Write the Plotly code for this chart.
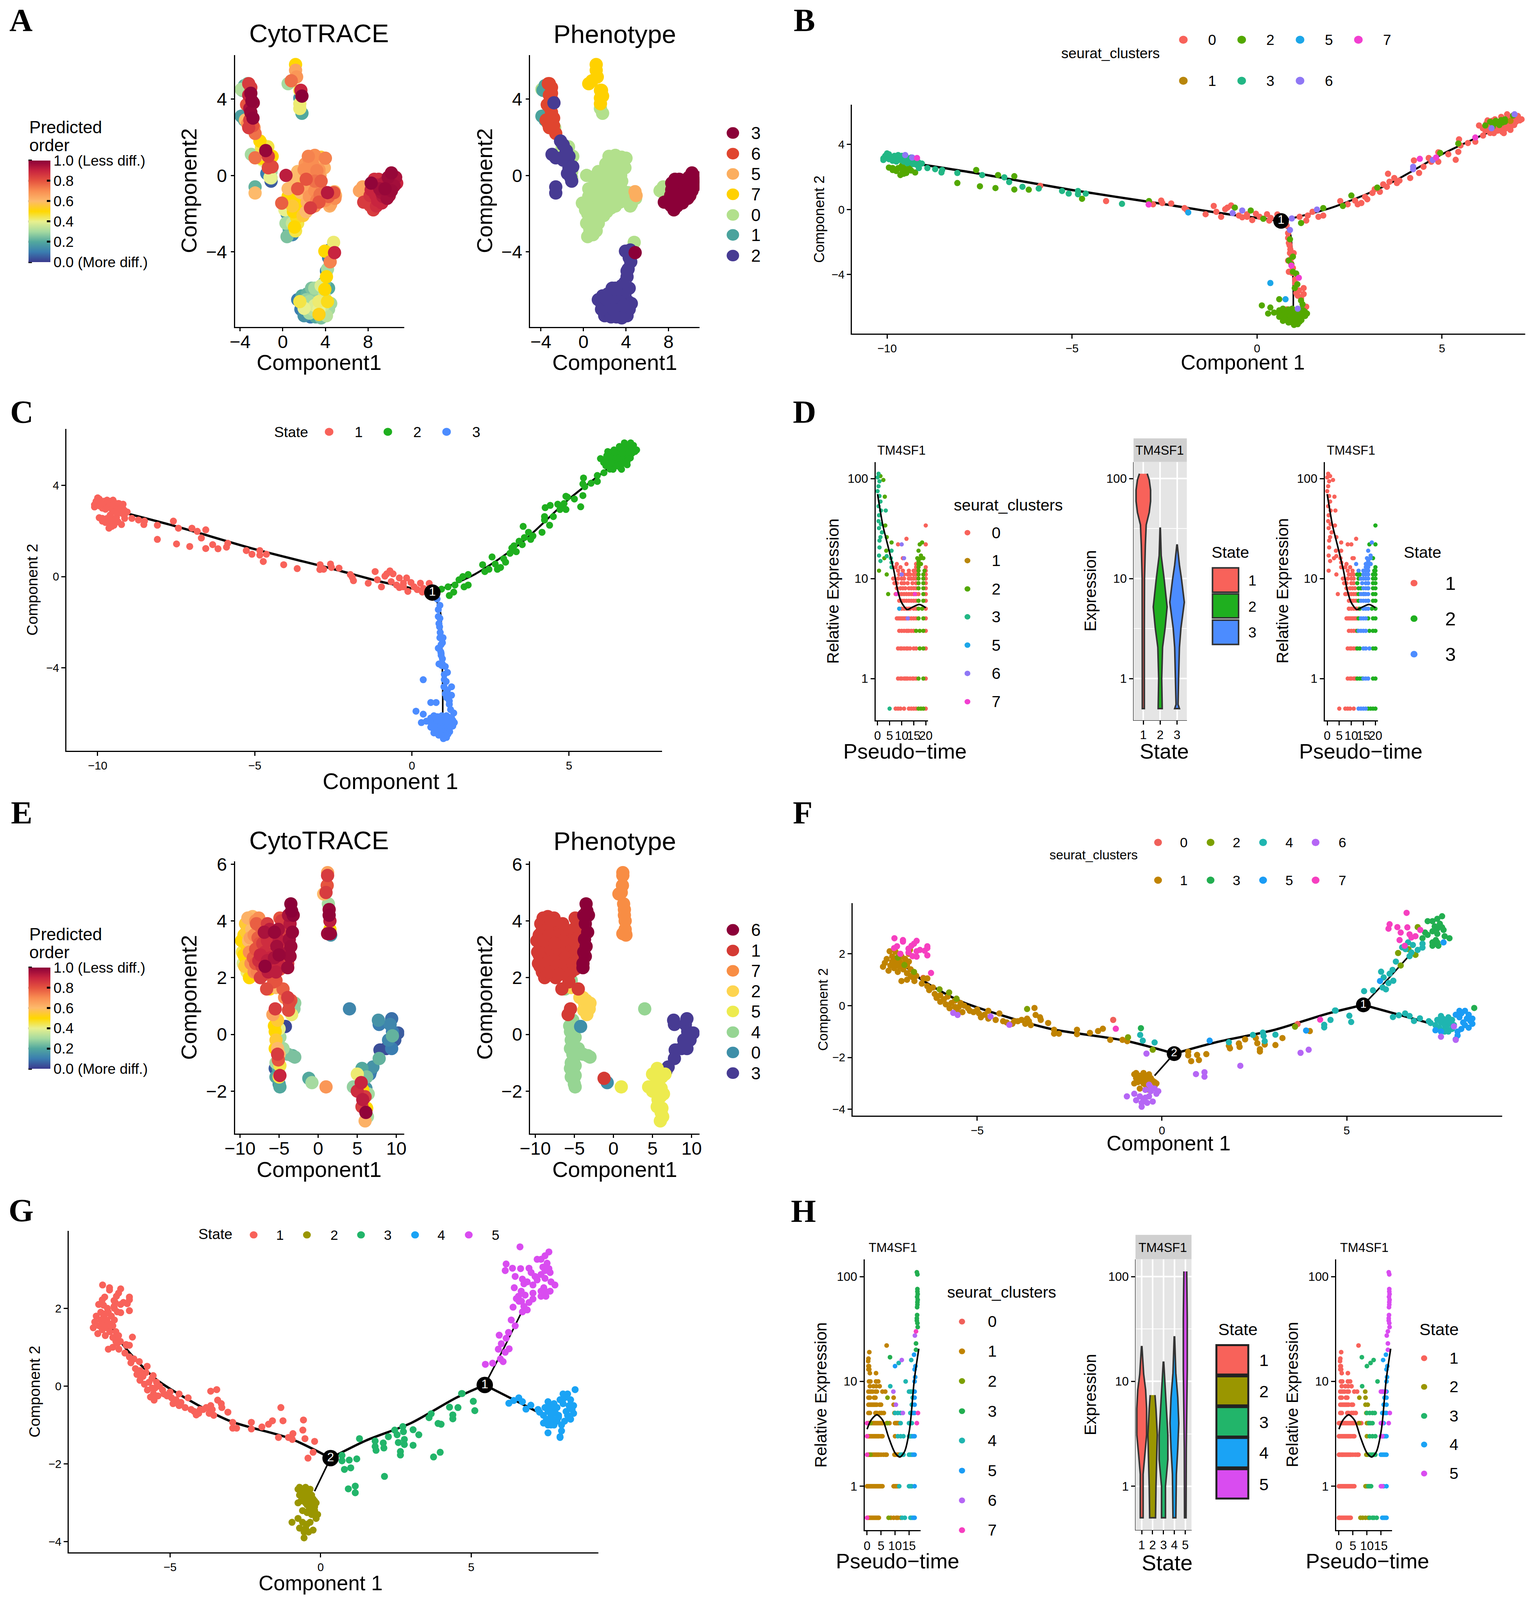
import plotly.graph_objects as go

# layout numbers are page pixels of the 3930x4394 reference, used as paper fractions
W, H = 3930, 4394
SANS = "Liberation Sans"
SERIF = "Liberation Serif"
FS = .98  # the browser frame comes out a bit shorter than asked, so text is scaled down a little

# %%
# Panels A / E: points as (component1, component2, cytotrace score), by phenotype
A_C0 = [(2.4,1.0,.72),(3,1.05,.7),(3.6,.95,.55),(4,.9,.72),(2.1,.6,.68),(2.8,.6,.7),(3.4,.6,.6),(3.9,.4,.62),(1.4,.2,.6),(2,.3,.7),
        (2.6,.3,.65),(3.2,.25,.72),(3.5,0,.65),(.3,0,.92),(.9,-.1,.6),(1.6,-.1,.55),(2.2,-.2,.8),(3,-.3,.75),(3.6,-.3,.78),(1.4,-.7,.8),
        (.5,-.7,.6),(2.2,-.7,.65),(3,-.8,.7),(3.7,-.8,.72),(4.2,-.9,.93),(4.8,-.9,.8),(4.9,-1.2,.7),(2,-1.1,.5),(1,-1.2,.45),(3.2,-1.3,.72),
        (4,-1.3,.7),(4.5,-1.5,.65),(4.4,-1.6,.62),(-.1,-1.45,.78),(.9,-1.6,.55),(1.8,-1.5,.5),(2.6,-1.7,.85),(3.4,-1.4,.8),(1,-1.9,.5),(1.9,-2.1,.55),
        (.4,-2,.15),(.7,-2.3,.2),(1.4,-2.5,.45),(1.1,-2.7,.5),(.5,-2.5,.25),(.3,-2.5,.3),(1.2,-2.9,.45),(.6,-3.0,.15),(.4,-3.2,.25),(.9,-3.1,.12),
        (4.77,-3.5,.42),(-1.1,-.13,.38),(-1.1,.2,.3),(-1.4,.8,.45),(-1.0,1,.5),(-1.4,1.5,.45),(-2.0,1.45,.45),(7.2,-.8,.65),(7.7,-1.1,.6),(7.5,-.6,.65),
        (1.6,3.5,.42),(1.8,3.25,.2),(-2.7,2.5,.7),(-3.9,4.5,.32),(2.4,0,.7),(1.2,-.4,.58),(1.7,-.9,.6),(2.5,-1.1,.68),(3.5,-1,.75),(4.3,-1.1,.78),
        (.5,-1.1,.5),(1.5,-1.3,.5),(2.3,-1.4,.62),(3,-1.6,.7),(1.3,-2.2,.48),(.2,-1.8,.4),(.8,-2.1,.3),(1.6,-1.8,.5),(2.2,-1.9,.6),(.9,-2.5,.35),
        (.6,-2.8,.2),(3.4,.3,.68),(2.5,.8,.7),(3.2,.85,.62)]
A_C1 = [(-3.6,4.7,.22),(-3.8,4.45,.25),(-3.9,3.1,.18),(-3.6,2.9,.2)]
A_C6 = [(-3.3,4.8,.25),(-3.2,4.8,.85),(-3,4.6,.85),(-3.2,4.2,.9),(-2.9,3.9,.99),(-3,4.3,.99),(-3,3.3,.98),(-3.1,3.5,.95),(-2.8,3.0,.99),
        (-3.1,2.9,.85),(-3.3,2.7,.7),(-2.8,2.6,.8),(-2.6,2.2,.75),(-3.5,2.9,.6),(-3.2,2.5,.85),(-3.4,3.7,.8)]
A_C2 = [(-2.15,1.8,.5),(-1.9,1.6,.45),(-2.95,1.1,.3),(-2.6,.92,.75),(-1.6,1.3,.98),(-1.36,1,.85),(-1.9,.8,.4),(-1.36,.4,.82),(-1,.45,.82),
        (-1.2,-.1,.4),(-2.6,-.6,.22),(-2.6,-.92,.6),(-2.0,.9,.5),(-1.7,1.1,.6),(-2.77,3.8,.98),(-1.5,.1,.1),(-1.1,-.3,.05),
        (3.95,-3.96,.5),(4.45,-4.52,.72),(4.2,-4.9,.3),(4.1,-5.3,.5),(3.6,-5.77,.38),(3.95,-5.96,.5),(3,-5.9,.3),(1.6,-6.6,.45),(4.2,-6.6,.48),
        (3.4,-7.27,.52),(2,-6.95,.4),(2.3,-6.2,.22),(3,-6.4,.28),(3.9,-6.3,.35),(1.4,-6.5,.1),(2,-7.34,.15),(3,-6.8,.38),(3.9,-7.1,.3),(4.1,-7.34,.33),
        (2.5,-7.2,.3),(3.4,-6.6,.42),(3.4,-7,.4),(2.5,-6.6,.3),(1.8,-6.3,.2),(4.3,-5.9,.2),(4.5,-6.7,.3),(4.3,-7,.3),(3.9,-5.6,.25),(4.3,-4.3,.1),
        (4.4,-3.9,.12),(4.1,-5,.1),(2.6,-7.4,.1),(3.1,-7.4,.2),(3.6,-7.45,.25),(1.7,-7,.1),(2.7,-5.9,.25),(2.2,-6.5,.28),(3.8,-6.8,.35),(2.8,-7,.33)]
A_C7 = [(1.2,5.8,.5),(1.2,5.5,.65),(1.3,5.15,.68),(.8,4.95,.75),(.5,4.8,.3),(1.7,4.45,.9),(1.8,4.15,1.0),(1.6,4.45,.45),(1.6,3.75,.42),(1.6,4.05,.15)]
A_C5 = [(4.95,-1.05,.62),(4.85,-.85,.6)]
A_C3 = [(7.6,-1.4,.85),(10.2,.13,.98),(10.6,-.1,.95),(9.9,-.1,.97),(10.7,-.4,.9),(9.5,-.4,.93),(8.9,-.5,.92),(8.3,-.4,.99),(8.3,-.75,.9),(9.3,-.9,.95),
        (10.2,-.8,.97),(9.8,-1.2,.96),(8.9,-1.3,.9),(8.2,-1.05,.87),(8.2,-1.57,.84),(8.5,-1.8,.85),(9.3,-1.44,.9),(10,-1.05,.95),(10.45,-.55,.96),(9.1,-.7,.96),
        (9.6,-.7,.98),(8.7,-1.0,.9),(9.4,-1.1,.93),(8.8,-1.6,.88),(9.9,-.5,.94),(10.3,-.3,.92),(9,-.2,.88),(8.6,-.2,.88),(4.86,-4.04,.9)]
A_GROUPS = [("0", A_C0), ("1", A_C1), ("6", A_C6), ("2", A_C2), ("7", A_C7), ("5", A_C5), ("3", A_C3)]
A_PHENO_LABELS = ["3", "6", "5", "7", "0", "1", "2"]
A_PHENO_COLORS = {"3": "#8B0038", "6": "#E0452F", "5": "#FBAE5F", "7": "#FFD100", "0": "#B2E08C", "1": "#4AA39D", "2": "#473B93"}

E_C1 = [(-9.7,2.9,.45),(-9.8,3.3,.5),(-9.5,3.5,.5),(-9.3,3.9,.55),(-9,4.1,.62),(-8.4,4.15,.6),(-7.6,4.1,.7),(-7.9,3.9,.78),(-9.6,2.5,.38),(-9.4,2.4,.55),
        (-9.1,2.2,.42),(-8.8,2.0,.5),(-9.5,2.8,.5),(-9.1,3.1,.52),(-8.7,3.4,.65),(-8.4,3.2,.6),(-8.8,2.9,.7),(-8.3,2.7,.78),(-8,2.5,.8),(-7.8,2.2,.72),
        (-7.4,2.0,.85),(-8,3,.8),(-7.7,3.4,.78),(-7.4,3.8,.78),(-7.4,2.8,.9),(-7.1,3.2,.85),(-6.9,3.6,.95),(-6.8,2.9,.88),(-6.5,2.6,.92),(-6.8,2.4,.99),
        (-6.2,3.7,.92),(-5.6,3.6,.98),(-5.1,3.7,.95),(-5.5,3.3,.88),(-6,3,.8),(-5.3,3.1,.96),(-5.8,2.4,.85),(-5.4,2.2,.92),(-5.6,2.7,.95),(-5,2.8,.98),
        (-4.7,4.0,.85),(-4.4,3.7,.85),(-4.9,2.3,.8),(-4.3,3.2,.8),(-9.2,3.6,.55),(-8.5,3.7,.6),(-8,4,.7),(-4.9,4.1,.8),(-6.6,1.6,.82),(-5.7,1.85,.8),
        (-4.5,1.6,.78),(-5.5,.9,.85),(-5.8,.7,.65),(-1.2,-1.55,.2),(-9.3,2.7,.5),(-8.9,3.3,.6),(-8.6,2.5,.7),(-8.2,2.2,.7),(-8.2,3.5,.7),(-7.6,2.6,.88),
        (-7.2,2.4,.85),(-6.5,3.3,.88),(-6.4,2.2,.92),(-6.1,2.7,.9),(-5.2,2.5,.9),(-5,3.3,.92),(-4.6,3,.85),(-4.6,2.6,.85),(-4.5,3.4,.85),(-7,2.1,.82),
        (-7.5,3.2,.8),(-6.5,3.9,.85)]
E_C6 = [(-3.5,4.6,1),(-3.4,4.35,1),(-3.2,4.2,.99),(-3.8,4.2,.95),(-3.3,3.6,.98),(-3.7,3.35,.96),(-3.5,3.1,.97),(-3.8,2.9,.95),(-3.6,2.75,.97),(-3.9,2.5,.85),(-3.9,2.35,.97),(-3.6,3.9,.93)]
E_C7 = [(1.2,5.7,.65),(1.2,5.6,.85),(1.15,5.25,.8),(1.0,5.0,.85),(.7,4.95,.6),(1.3,4.6,.3),(1.4,4.4,.98),(1.4,4.2,.99),(1.5,4.0,.92),(1.5,3.7,.5),(1.55,3.55,.98),(1.2,3.55,.97),(1.6,3.5,.15)]
E_C2 = [(-3.9,1.3,.85),(-3.7,1.1,.82),(-3.5,1.2,.8),(-3.8,.85,.82),(-3,1.1,.28),(-3.1,.9,.28),(-3.4,.7,.42),(-4.3,1.3,.7),(-5.4,1.65,.6)]
E_C4 = [(-5.4,1.9,.8),(-5.6,.3,.5),(-5.5,.1,.5),(-5.4,-.2,.55),(-5.2,-.5,.6),(-5.1,-.9,.8),(-5.2,-.7,.85),(-4.9,-.1,.3),(-4.5,-.5,.3),(-3.9,-.7,.25),
        (-3.3,-.75,.22),(-3,-.8,.25),(-5.1,-1.2,.2),(-5,-1.5,.45),(-4.9,-1.45,.9),(-5,-1.75,.15),(-4.9,-1.85,.2),(-5.2,-.3,.15),(-5.5,-1.2,.05),(4.0,.9,.12),
        (-6.2,1.6,.5),(-5.2,.5,.55),(-4.9,-1.1,.45),(-5.5,-.5,.5),(-5,-.7,.6),(-5.4,-1,.3),(-5.4,-1.5,.2),(-5,.2,.4)]
E_C0 = [(-4.2,.28,.02),(-.8,-1.7,.3)]
E_C3 = [(7.7,.5,.15),(7.8,.35,.1),(9.4,.55,.08),(9.2,.35,.12),(9.5,.1,.1),(10.2,.05,.05),(9.8,-.2,.05),(9.5,-.05,.22),(9.4,-.5,.1),(9,-.2,.12),(8.7,-.5,.02),(7.9,-.55,.03),(7.8,-.85,.22),(7,-1.15,.15),(6.7,-1.3,.1)]
E_C5 = [(5.6,-1.2,.2),(5,-1.4,.42),(5.5,-1.7,.9),(5,-2,.88),(4.5,-1.85,.28),(6,-2.2,.85),(5.7,-2.3,.92),(6.2,-2.6,.5),(6.1,-2.75,.99),(6,-3.05,.62),(5.6,-2.55,.85),(6.2,-1.5,.25),(6.6,-1.4,.1),(5.7,-1.95,.5),(6.1,-1.9,.15),(6.4,-2.1,.3),(6.3,-2.9,.3),(1.0,-1.85,.68)]
E_GROUPS = [("4", E_C4), ("0", E_C0), ("3", E_C3), ("5", E_C5), ("2", E_C2), ("1", E_C1), ("7", E_C7), ("6", E_C6)]
E_PHENO_LABELS = ["6", "1", "7", "2", "5", "4", "0", "3"]
E_PHENO_COLORS = {"6": "#8B0038", "1": "#D43A34", "7": "#F88D44", "2": "#FDD44F", "5": "#EDEB4F", "4": "#96D593", "0": "#3E8FA8", "3": "#473B93"}

CB_TICKS = [0, .2, .4, .6, .8, 1]
CB_LABELS = ["0.0 (More diff.)", "0.2", "0.4", "0.6", "0.8", "1.0 (Less diff.)"]
CYTO_SCALE = [[0, "#3B3A8E"], [.1, "#3A7DB0"], [.2, "#52A89E"], [.3, "#A5DAA0"], [.4, "#E8F08E"], [.5, "#FFD700"],
              [.6, "#FDBA6B"], [.7, "#F98E52"], [.8, "#E5533F"], [.9, "#C8243F"], [1, "#8B0038"]]

# %%
# Panels B / C: one trajectory, points grouped as state + seurat cluster
T1_S1_C3 = [(-10.1,3.15),(-10.05,3.3),(-10.0,3.45),(-9.95,3.1),(-9.9,3.25),(-9.85,3.0),(-9.8,3.3),(-9.75,3.1),(-9.7,3.35),(-9.65,3.05),(-9.6,3.2),(-9.55,2.95),
            (-9.5,3.3),(-9.45,3.1),(-9.4,2.9),(-9.35,3.2),(-9.3,3.05),(-9.25,2.8),(-9.2,3.0),(-9.15,2.7),(-9.14,2.55),(-9.06,2.83),(-8.91,2.55),(-8.7,2.48),(-8.53,2.28),
            (-8.51,2.43),(-8.1,2.25),(-7.43,2.12),(-6.83,1.98),(-6.7,1.69),(-6.34,1.4),(-5.9,1.29),(-5.27,1.14),(-5.09,.98),(-4.84,1.14),(-4.84,.94),(-4.63,.98),(-3.65,.35),
            (-10.1,3.05),(-9.95,3.4),(-9.85,3.15),(-9.75,2.95),(-9.6,3.3),(-9.5,3.15),(-9.45,2.85),(-9.35,3.0),(-9.3,2.8),(-9.2,2.75),(-9.15,2.9)]
T1_S1_C2 = [(-8.1,1.63),(-7.59,2.43),(-7.49,1.43),(-7.07,1.32),(-7.0,2.12),(-6.56,2.05),(-6.56,1.23),(-6.17,1.22),(-4.73,.66),(-9.24,2.28),(-2.92,.52),(-.6,.12),(-.17,-.06),(.17,-.57),
            (-9.95,2.58),(-9.85,2.43),(-9.75,2.37),(-9.64,2.12),(-9.55,2.55),(-9.48,2.25),(-9.45,2.48),(-9.58,2.32),(-9.7,2.55),(-9.6,2.7),(-9.4,2.6),(-9.35,2.4),(-9.55,2.2),(-9.85,2.55)]
T1_S1_C0 = [(-5.86,1.46),(-4.08,.52),(-2.81,.32),(-2.59,.55),(-2.56,.4),(-2.32,.37),(-1.96,.09),(-1.9,-.03),(-1.39,-.29),(-1.17,.22),(-1.1,-.14),(-.97,-.45),(-.86,.02),(-.8,.12),(-.7,.25),
            (-.49,-.37),(-.4,-.48),(-.27,-.29),(-.27,-.45),(-.13,-.65),(-.03,-.26),(.07,-.45),(.33,-.68),(.37,-.52),(.27,-.29),(.55,-.3)]
T1_S1_C5 = [(-1.86,-.18)]
T1_S1_C6 = [(-9.51,3.35),(-9.32,3.2),(-.66,-.22),(-.4,-.06)]
T1_S1_C7 = [(-9.19,3.17),(-2.93,.31)]
T1_S2_C0 = [(1.15,-.45),(1.33,-.68),(1.37,-.37),(1.5,-.14),(1.66,-.45),(1.79,-.37),(2.25,.52),(2.45,.32),(2.65,.55),(2.72,.32),(2.82,.4),(2.92,.78),(2.98,.63),(3.12,1.02),(3.18,1.25),(3.32,1.09),
            (3.41,1.55),(3.51,1.4),(3.58,1.71),(3.71,1.94),(3.54,2.2),(3.85,1.78),(3.78,1.63),(4.14,1.94),(4.38,2.25),(4.24,3.02),(4.64,3.17),(4.5,2.63),(4.71,2.94),(4.9,2.94),(4.9,3.52),(5.17,3.4),
            (5.37,3.06),(5.44,3.55),(5.46,4.32),(5.5,3.94),(5.7,4.09),(5.9,4.17),(6.11,4.55),(6.3,4.71),(6.17,4.86),(6.0,5.17),(6.23,5.48),(6.43,5.55),(6.7,5.48),(6.56,5.0),(6.76,5.17),(6.9,5.55),
            (7.03,5.63),(6.76,5.86),(6.9,5.32),(6.63,4.78),(6.67,4.7),(7.1,5.48),(6.3,5.2),(6.45,4.9),(6.85,5.05),(6.1,5.0),(6.2,5.3),(6.25,4.9),(6.35,5.45),(6.4,4.7),(6.5,5.15),(6.5,4.85),
            (6.6,5.7),(6.6,5.2),(6.7,4.95),(6.8,5.7),(6.85,4.9),(6.95,5.2),(7.0,5.4),(7.05,5.75),(7.15,5.55),(6.7,5.3),(6.45,5.3)]
T1_S2_C2 = [(1.19,-.83),(1.79,.09),(2.32,.22),(2.55,.86),(3.25,1.35),(5.44,4.06),(4.95,3.48),(6.17,5.17),(6.37,5.09),(6.5,5.4),(6.63,5.35),(6.3,5.4),(6.92,5.78),(6.7,5.55),(6.4,5.25),(6.55,5.2),(6.6,5.5),(6.7,5.4),(6.45,5.45)]
T1_S2_C1 = [(6.85,5.45)]
T1_S2_C6 = [(.94,-.55),(1.62,0),(4.22,2.63),(4.22,2.48),(4.75,3.05),(6.34,5.0),(6.96,5.86)]
T1_S2_C7 = [(4.4,3.12),(5.9,4.43),(4.84,3.2)]
T1_S3_C0 = [(.8,-.98),(.84,-1.45),(.84,-1.75),(.86,-2.06),(.9,-2.45),(.89,-2.68),(.93,-2.98),(.99,-2.68),(.84,-3.14),(.86,-3.83),(.97,-3.6),(1.03,-4.29),(1.03,-4.52),(1.26,-4.83),(1.13,-4.98),(1.26,-5.2),
            (1.06,-5.14),(1.19,-5.45),(1.33,-5.98),(1.26,-6.2),(.8,-6.14),(.88,-2.2),(.92,-3.3),(.95,-3.9),(1.1,-5.3)]
T1_S3_C2 = [(.86,-3.14),(.97,-2.9),(.93,-3.37),(.89,-1.83),(.97,-3.83),(1.06,-3.94),(1.02,-4.83),(1.09,-4.6),(1.19,-5.6),(1.23,-5.83),(.6,-5.52),(.13,-5.9),(.36,-6.03),(.3,-6.4),(.46,-6.34),
            (.6,-6.2),(.7,-6.1),(.75,-6.3),(.85,-6.15),(.95,-6.1),(1.05,-6.2),(1.15,-6.15),(1.25,-6.2),(1.3,-6.3),(1.35,-6.4),(.6,-6.4),(.7,-6.5),(.8,-6.4),(.9,-6.3),(1,-6.4),(1.1,-6.35),(1.2,-6.45),
            (1.3,-6.55),(.6,-6.6),(.7,-6.7),(.8,-6.6),(.9,-6.55),(1,-6.6),(1.1,-6.6),(1.2,-6.65),(.7,-6.85),(.8,-6.8),(.9,-6.75),(1,-6.8),(1.1,-6.8),(1.2,-6.8),(.85,-6.95),(.95,-6.95),(1.05,-6.95),
            (1.1,-7.05),(1,-7.1),(.65,-6.55),(.75,-6.75),(1.15,-6.9)]
T1_S3_C5 = [(.36,-4.52),(.77,-5.52)]
T1_S3_C6 = [(.89,-1.26),(1.1,-6.1)]
T1_S3_C7 = [(1.13,-4.2),(.93,-3.45)]
T1_GROUPS = [("1", "0", T1_S1_C0), ("1", "2", T1_S1_C2), ("1", "3", T1_S1_C3), ("1", "5", T1_S1_C5), ("1", "6", T1_S1_C6), ("1", "7", T1_S1_C7),
             ("2", "0", T1_S2_C0), ("2", "1", T1_S2_C1), ("2", "2", T1_S2_C2), ("2", "6", T1_S2_C6), ("2", "7", T1_S2_C7),
             ("3", "0", T1_S3_C0), ("3", "2", T1_S3_C2), ("3", "5", T1_S3_C5), ("3", "6", T1_S3_C6), ("3", "7", T1_S3_C7)]
T1_LEFT_X = [-9.3, -7.5, -5, -2.5, -1, .65]
T1_LEFT_Y = [2.85, 2.2, 1.2, .33, -.22, -.7]
T1_RIGHT_X = [.65, 2, 3.5, 5, 6.5]
T1_RIGHT_Y = [-.7, .1, 1.5, 3.4, 5]
T1_DOWN_X = [.65, .9, .95, .98, .98]
T1_DOWN_Y = [-.7, -1.5, -3, -5, -6.1]
T1_NODE_X = [.65]
T1_NODE_Y = [-.7]
T1_NODE_TEXT = ["1"]
B_COLORS = {"0": "#F8625A", "1": "#B8860B", "2": "#53A800", "3": "#22B785", "5": "#1CA6E8", "6": "#8F77F5", "7": "#F23FD0"}
C_COLORS = {"1": "#F8625A", "2": "#1FAF1F", "3": "#4C8CFF"}

# %%
# Panels F / G: second trajectory
T2_S1_C1 = [(-7.55,1.5),(-7.5,1.65),(-7.45,1.8),(-7.4,1.35),(-7.35,1.55),(-7.3,1.7),(-7.3,1.9),(-7.25,1.45),(-7.2,1.6),(-7.2,1.8),(-7.15,1.3),(-7.1,1.5),(-7.1,1.7),(-7.05,1.9),(-7,1.4),(-7,1.6),
            (-6.95,1.8),(-6.9,1.25),(-6.9,1.55),(-6.85,1.7),(-6.8,1.15),(-6.85,2.0),(-6.8,1.4),(-7.37,2.1),(-7.21,2.08),(-6.82,2.15),(-6.9,1.0),(-6.75,1.1),(-6.7,.95),(-6.65,1.15),(-6.5,.85),(-6.45,1.05),
            (-6.35,1.05),(-7.05,.95),(-6.35,.75),(-6.3,.6),(-6.2,.7),(-6.15,.45),(-6.1,.3),(-6,.4),(-6,.15),(-5.9,.25),(-5.85,.05),(-5.8,.35),(-5.75,-.1),(-5.7,.1),(-5.6,-.05),(-5.6,.2),(-5.55,-.2),
            (-5.5,-.05),(-5.45,.1),(-5.4,-.25),(-5.35,.0),(-5.25,-.1),(-5.2,-.2),(-5.1,-.25),(-5,-.15),(-4.95,-.3),(-4.9,-.45),(-4.8,-.35),(-4.7,-.5),(-4.7,-.2),(-4.5,-.55),(-4.4,-.3),(-4.3,-.6),(-4.2,-.65),
            (-4.05,-.7),(-4,-.6),(-3.9,-.6),(-3.8,-.55),(-3.7,-.7),(-3.65,-.5),(-3.6,-.6),(-3.55,-.75),(-3.45,-.09),(-3.42,-.36),(-3.3,-.45),(-3.28,-.55),(-3.08,-.67),(-2.92,-.93),(-2.79,-1.08),(-2.92,-1.08),
            (-2.3,-.93),(-2.3,-1.1),(-1.95,-1.05),(-1.73,-.98),(-1.6,-.89),(-1.4,-1.32),(-1.07,-1.32),(-.94,-1.37)]
T2_S1_C7 = [(-7.24,2.6),(-7.01,2.53),(-7.01,2.47),(-6.64,2.5),(-6.71,2.39),(-6.78,2.31),(-7.17,2.29),(-7.25,2.22),(-6.86,2.2),(-6.35,2.29),(-6.35,2.22),(-6.42,2.12),(-6.55,2.15),(-6.64,2.1),
            (-6.86,2.05),(-7.08,2.0),(-6.75,1.91),(-6.64,1.89),(-6.35,1.94),(-6.25,1.26),(-1.25,-.89)]
T2_S1_C2 = [(-6.97,1.57),(-6.71,1.3),(-6.02,.63),(-5.76,.51),(-5.56,.27),(-7.15,1.86),(-3.65,-.13),(-.92,-1.22),(-.25,-1.7)]
T2_S1_C3 = [(-.57,-.87)]
T2_S1_C0 = [(-6.46,1.07),(-1.32,-.55)]
T2_S1_C4 = [(-.59,-1.13),(-.52,-1.35),(-.2,-1.42)]
T2_S1_C6 = [(-4.13,-.74),(-5.65,-.28),(-5.53,-.36),(-4.64,-.42),(-.42,-1.85)]
T2_S2_C1 = [(-.75,-2.65),(-.7,-2.8),(-.65,-2.95),(-.7,-2.6),(-.6,-2.7),(-.55,-2.85),(-.5,-2.6),(-.5,-3),(-.45,-2.75),(-.4,-2.9),(-.35,-2.65),(-.3,-2.8),(-.25,-2.9),(-.2,-2.95),(-.15,-3.0),(-.4,-3.2),
            (-.75,-3.0),(-.6,-3.2),(-.45,-3.05),(-.2,-3.1),(-.35,-3.25)]
T2_S2_C6 = [(-.95,-3.5),(-.75,-3.4),(-.7,-3.65),(-.6,-3.5),(-.55,-3.75),(-.5,-3.65),(-.45,-3.55),(-.55,-3.9),(-.4,-3.75),(-.35,-3.5),(-.3,-3.3),(-.25,-3.7),(-.2,-3.2),(-.15,-3.4),(-.1,-3.3),(-.3,-3.15),(-.45,-3.25),(-.35,-3.05)]
T2_S3_C1 = [(.71,-1.78),(.71,-1.92),(.95,-1.9),(1.2,-1.87),(.79,-2.14),(1,-2.1),(1.81,-1.55),(1.84,-1.65),(2.08,-1.46),(2.1,-1.59),(2.25,-1.3),(2.54,-1.25),(2.58,-1.45),(2.78,-1.5),(3.07,-1.52),(3.26,-1.25),(2.65,-1.68),(2.65,-1.77),(4.0,-.98)]
T2_S3_C4 = [(1.81,-1.41),(2.46,-1.13),(2.73,-1.04),(2.75,-1.17),(2.78,-1.37),(3.07,-1.12),(4.56,-.55),(4.39,-.74),(4.39,-.84),(4.7,-.19),(5.07,-.39),(5.12,-.63),(4.68,-.19)]
T2_S3_C5 = [(1.29,-1.35),(3.9,-.96)]
T2_S3_C6 = [(.92,-2.64),(1.15,-2.57),(1.15,-2.74),(2.12,-2.32),(3.75,-1.82),(3.97,-1.7)]
T2_S3_C2 = [(3.6,-.81)]
T2_S3_C0 = [(3.67,-.71)]
T2_S3_C7 = [(4.28,-.54)]
T2_S4_C4 = [(6.25,-.44),(6.41,-.37),(6.58,-.3),(6.7,-.4),(6.82,-.59),(6.98,-.49),(7.22,-.6),(7.27,-.67),(7.4,-.75),(7.45,-.55),(7.5,-.85),(7.55,-.65),(7.6,-.5),(7.6,-.95),(7.65,-.75),(7.7,-.6),(7.7,-.85),
            (7.75,-.45),(7.75,-1),(7.8,-.7),(7.85,-.55),(7.85,-.9),(7.9,-.75),(7.55,-.4),(7.65,-1)]
T2_S4_C5 = [(8.2,-.2),(8.05,-.2),(8.3,-.35),(8.4,-.5),(8.4,-.7),(8.35,-.6),(8.25,-.5),(8.2,-.75),(8.3,-.85),(8.15,-.65),(8.1,-.9),(8.05,-.45),(8,-1),(8,-1.15),(7.95,-1.3),(7.95,-.35),(8.1,-.3),(7.55,-1.0),(7.4,-.95)]
T2_S4_C6 = [(7.55,-1.2),(7.95,-1.32),(7.9,-.8)]
T2_S4_C3 = [(8.45,-.09)]
T2_S5_C3 = [(7.58,3.45),(7.45,3.35),(7.19,3.26),(7.32,3.26),(7.52,3.16),(7.38,3.06),(7.58,3.02),(7.45,2.97),(7.62,2.92),(7.32,2.87),(7.12,2.82),(7.45,2.77),(7.19,2.73),(7.65,2.68),(7.78,2.6),(7.05,2.6),(7.41,2.53),(7.32,2.44),(7.45,2.44),(7.32,2.31),(7.48,2.31)]
T2_S5_C7 = [(6.62,3.58),(6.16,3.14),(6.13,2.97),(6.37,3.03),(6.64,3.02),(6.99,2.92),(6.46,2.82),(6.7,2.75),(6.86,2.68),(6.43,2.53),(6.75,2.63),(6.57,2.31)]
T2_S5_C2 = [(6.92,3.03),(6.39,2.03),(6.67,2.18),(6.86,1.96),(6.46,1.55)]
T2_S5_C5 = [(7.62,2.44),(5.9,.95)]
T2_S5_C4 = [(6.66,2.44),(6.79,2.34),(6.59,2.18),(6.92,2.15),(7.05,2.24),(7.05,2.39),(6.7,1.91),(6.33,1.7),(6.24,1.38),(5.93,1.31),(6.16,1.23),(6,1.09),(6.26,.96),(6.13,.87),(5.97,.7),(6.06,.63),(5.71,.59),(5.47,.56),(6.5,2.25),(6.75,2.05)]
T2_GROUPS = [("1", "1", T2_S1_C1), ("1", "0", T2_S1_C0), ("1", "2", T2_S1_C2), ("1", "3", T2_S1_C3), ("1", "4", T2_S1_C4), ("1", "6", T2_S1_C6), ("1", "7", T2_S1_C7),
             ("2", "1", T2_S2_C1), ("2", "6", T2_S2_C6),
             ("3", "1", T2_S3_C1), ("3", "0", T2_S3_C0), ("3", "2", T2_S3_C2), ("3", "4", T2_S3_C4), ("3", "5", T2_S3_C5), ("3", "6", T2_S3_C6), ("3", "7", T2_S3_C7),
             ("4", "3", T2_S4_C3), ("4", "4", T2_S4_C4), ("4", "5", T2_S4_C5), ("4", "6", T2_S4_C6),
             ("5", "2", T2_S5_C2), ("5", "3", T2_S5_C3), ("5", "4", T2_S5_C4), ("5", "5", T2_S5_C5), ("5", "7", T2_S5_C7)]
T2_BRANCH_1_X = [-7, -6.5, -5.5, -4.5, -3, -1, .33]
T2_BRANCH_1_Y = [1.6, 1.0, .2, -.3, -.9, -1.35, -1.85]
T2_BRANCH_2_X = [.33, -.2]
T2_BRANCH_2_Y = [-1.85, -2.7]
T2_BRANCH_3_X = [.33, 1.5, 3, 4.5, 5.45]
T2_BRANCH_3_Y = [-1.85, -1.4, -.95, -.3, .03]
T2_BRANCH_4_X = [5.45, 6.1, 6.8]
T2_BRANCH_4_Y = [.03, 1.0, 2.1]
T2_BRANCH_5_X = [5.45, 7.3]
T2_BRANCH_5_Y = [.03, -.7]
T2_NODE_X = [5.45, .33]
T2_NODE_Y = [.03, -1.85]
T2_NODE_TEXT = ["1", "2"]
F_COLORS = {"0": "#F0605A", "1": "#C08300", "2": "#7CA000", "3": "#22AE50", "4": "#1FB5B0", "5": "#1A9CF5", "6": "#B566F5", "7": "#F63FC0"}
G_COLORS = {"1": "#F8625A", "2": "#9A9600", "3": "#22B56A", "4": "#1AA3F5", "5": "#D94CF0"}

# %%
# Panel D: pseudo-time points, free points as (time, expr) and rows as (expr, [times])
D_S1_C3 = [(.4,112),(0,103),(.8,94),(.4,84),(0,75),(.8,67),(1.2,59),(.4,53),(1.4,48),(3.4,48),(.6,43),(.4,37.6),(1.4,35),(.6,32),(1.8,29),(1.2,26),(.8,24),(.8,20.5),(.6,17),(5.8,19),(3.8,16.8),(5.5,16),(1.2,15),(5.8,14.5),(5.8,13)]
D_S1_C2 = [(1.2,106),(2.4,97),(3,66),(3.2,34),(3.8,26),(5.8,23),(3.6,19),(2.8,16),(.6,12),(3.8,11),(4.4,7)]
D_S1_C0_ROWS = [(.5,[7.5,8.5,9.5,11]),(1,[8.5,9.5,10,11,11.5,12]),(2,[8.5,9.5,10,11,12]),(3,[9,10,11,12]),(4,[8,8.5,9,9.5,10,10.5,11,11.5,12]),(5,[9,10,11,12,13]),
                (6,[9,10,11,12]),(7,[7.5,9,10,11,12]),(8,[8,9.5,10.5,11.5]),(9,[7,8,10,11]),(10,[6.5,8.5,10,11]),(11,[9,11]),(12,[8.5,10.5]),(13,[7.5,9.5]),(14,[8]),(22,[8.5]),(16,[10.5]),(25,[12])]
D_S1_C3_ROWS = [(.5,[5])]
D_S1_C6_ROWS = [(22,[10]),(16,[11]),(11,[10]),(4,[12.5])]
D_S1_C7_ROWS = [(7,[7.8])]
D_S1_C5_ROWS = [(5,[9])]
D_S2_C0_ROWS = [(1,[12.5,13.5,14.5,20]),(2,[12.5,13.5,20]),(3,[12.5,20]),(4,[13,20]),(5,[13.5,20]),(6,[13,20]),(7,[13,15,20]),(8,[13,14,20]),(9,[12.5,20]),(10,[13,20]),(11,[12.5,13.5,20]),(12,[20]),(13,[20]),(34,[20]),(22,[20]),(.5,[20])]
D_S2_C2_ROWS = [(.5,[17,18,19]),(1,[19]),(2,[19]),(3,[17.5,19]),(4,[17,19]),(5,[18.5]),(6,[17,19]),(7,[19]),(8,[17,19]),(9,[19]),(10,[19]),(11,[19]),(12,[19.5]),(14,[17,18]),(16,[19]),(22,[17.5])]
D_S3_C0_ROWS = [(.5,[13,14,15,16]),(1,[15,16]),(2,[15,16]),(3,[13,14,15]),(4,[14,15,16]),(5,[15,16]),(6,[14,15,16]),(7,[14,15,16,17]),(8,[15,16]),(9,[14.5,16]),(10,[14,15,16]),(11,[15,16]),(12,[13,15,16]),(13,[16]),(14,[12,16,18])]
D_S3_C2_ROWS = [(1,[17]),(2,[17.5]),(3,[16]),(5,[17]),(6,[17]),(8,[17]),(9,[17]),(10,[17]),(11,[17]),(12,[17]),(13,[17]),(14,[17]),(15,[17]),(16,[16.5,18]),(17,[18]),(19,[17]),(23,[18.5])]
D_S3_C7_ROWS = [(7,[15.5])]
D_SMOOTH_X = [0, 2.2, 4.2, 6.7, 8.3, 9.9, 12.3, 14.3, 17.4, 20]
D_SMOOTH_Y = [70, 34, 21.7, 12.2, 7.7, 5.8, 4.9, 5.15, 5.5, 5.1]
D_CLUSTER_LABELS = ["0", "1", "2", "3", "5", "6", "7"]

V_D_EXPR = [[112,97,77,59.5,46,34.5,21.7,10,3.2,.5], [32.5,17,10,5.2,3.2,2.05,1,.5], [22,13.7,10,5.8,3.2,2.05,1,.55,.5]]
V_D_HALF = [[.23,.35,.43,.43,.35,.17,.12,.07,.06,.06], [.01,.06,.23,.41,.29,.14,.09,.12], [.01,.14,.26,.43,.23,.14,.09,.06,.14]]

# %%
# Panel H
H_S1_C1_ROWS = [(.5,[.3,.8,1.3,1.8,2.3,2.8,3.3,3.8,4.2]),(1,[0,.5,1,1.5,2,2.5,3,3.5,4,4.5,5,5.5]),(2,[.3,.8,1.3,1.8,2.3,2.8,3.3,3.8,4.3,5,5.8,6.5,7]),(3,[.3,.8,1.3,1.8,2.3,2.8,3.3,3.8,4.3,5,5.5]),
                (4,[.5,1,1.5,2,2.5,3,3.5,4,4.5,5,5.5,7,8]),(5,[.5,1,3,3.5,4.5,5.2,6]),(6,[.5,1,1.5,2,2.5,3,3.5,4.5,5]),(7,[.5,1,2.5,3]),(8,[.5,1,1.5,2,3,3.5,5.5,6.5]),(9,[1,2.3,3.3,4.5]),
                (10,[.7,1.2,3.2,4]),(12,[1,3.2]),(13,[.5,.8]),(14,[.5,.7]),(15.6,[.4]),(16.5,[.5]),(19,[.8]),(22,[7])]
H_S1_C7_ROWS = [(.5,[0]),(2,[0]),(3,[0]),(4,[0])]
H_S1_C2_ROWS = [(2,[1.2]),(4,[1.2])]
H_S2_C1_ROWS = [(.5,[8.5,9.5,10.5]),(1,[9.5,10]),(2,[9.8,10.3]),(3,[10]),(4,[10,10.5]),(5,[9.8]),(6,[9.5]),(7,[9.5])]
H_S2_C2_ROWS = [(7,[7.3]),(4,[7.3]),(.5,[7.7])]
H_S2_C6_ROWS = [(6,[10.3]),(8,[9.4])]
H_S3_C1_ROWS = [(.5,[11,12]),(1,[10.5,11]),(2,[11,11.5]),(4,[10.8,11.3])]
H_S3_C4_ROWS = [(.5,[12.5,13.5]),(1,[11.5]),(2,[12,12.5,13]),(3,[11,12,13]),(4,[12]),(5,[10,11,12]),(9,[8.3]),(15,[11.3]),(10,[13.8])]
H_S3_C3_ROWS = [(17,[8.2])]
H_S3_C5_ROWS = [(14,[10])]
H_S3_C6_ROWS = [(5,[12.8]),(16,[12.4])]
H_S4_C4_ROWS = [(.5,[15.5,16]),(1,[16]),(2,[15,15.5,16]),(3,[15.5,16]),(4,[16]),(5,[15.5,16]),(6,[16]),(7,[16.3]),(8,[15.5,16]),(16,[15.8])]
H_S4_C5_ROWS = [(.5,[16.5,17]),(1,[17]),(2,[16.5,17]),(3,[16.5,17]),(5,[16.5,17]),(6,[17]),(7,[17]),(8,[17]),(10,[17]),(11,[17.2]),(13,[17]),(14,[17.3]),(18,[16.8])]
H_S5_C3 = [(17.8,110),(18,105),(18,76),(18,72),(18.1,68),(17.9,64),(18.1,60),(18,57),(18,54),(17.9,51),(17.9,43),(17.8,40),(17.8,38),(18,36),(18.1,33),(17.5,23),(17.5,20)]
H_S5_C6 = [(17.1,27.4)]
H_S5_C7 = [(17.5,30)]
H_S5_C4_ROWS = [(1,[15,15.5]),(3,[15,15.5]),(4,[15,15.5]),(8,[15,15.5,16.5])]
H_S5_C7_ROWS = [(4,[17.8]),(5,[18.2])]
H_SMOOTH_X = [0, 1.4, 3.5, 5.6, 7.7, 10, 11.7, 13.4, 15.2, 16.9, 18.5]
H_SMOOTH_Y = [3.5, 4.26, 4.8, 4.26, 2.93, 2.08, 1.9, 2.14, 3.5, 10.4, 20.5]
H_CLUSTER_LABELS = ["0", "1", "2", "3", "4", "5", "6", "7"]

V_H_EXPR = [[21.8,16.5,11.7,8.3,5.5,3.1,1.96,1.3,.85,.5], [7.4,5.5,3.1,1.8,1,.5], [15.5,10,5.5,3.1,1.8,1,.5], [27,12,7,4,2.3,1.3,.5], [112,40,13,5.5,2.3,.5]]
V_H_HALF = [[.02,.09,.18,.36,.45,.45,.27,.13,.13,.13], [.22,.31,.43,.36,.31,.27], [.02,.13,.27,.4,.4,.18,.18], [.02,.13,.31,.4,.31,.18,.13], [.13,.18,.18,.13,.09,.07]]

LOG_TICKS = [1, 10, 100]
LOG_LABELS = ["1", "10", "100"]
LOG_MINOR = [3.16, 31.6]

fig = go.Figure()
axis_count = 0
annotations = []
shapes = []


# %%
def rows(table):
    return [(x, y) for y, xs in table for x in xs]


def new_axes(left, right, top, bottom, xr, yr, xticks, xlabels, yticks, ylabels, tick_size, line=3, ylog=False, tick_len=10, x_standoff=0):
    global axis_count
    axis_count += 1
    n = axis_count
    common = dict(showline=True, linecolor="black", linewidth=line, ticks="outside", ticklen=tick_len, tickwidth=3, tickangle=0,
                  tickcolor="black", showgrid=False, zeroline=False, tickmode="array", tickfont=dict(family=SANS, size=tick_size * FS, color="black"))
    fig.update_layout(**{
        f"xaxis{n}": dict(domain=[left / W, right / W], range=xr, anchor=f"y{n}", tickvals=xticks, ticktext=xlabels, ticklabelstandoff=x_standoff, **common),
        f"yaxis{n}": dict(domain=[1 - bottom / H, 1 - top / H], range=yr, anchor=f"x{n}", tickvals=yticks, ticktext=ylabels,
                          type="log" if ylog else "linear", **common),
    })
    return n


def add_text(x, y, text, size, angle=0, anchor="center", family=SANS):
    annotations.append(dict(x=x / W, y=1 - y / H, xref="paper", yref="paper", text=text, showarrow=False, textangle=angle,
                            xanchor=anchor, yanchor="middle", font=dict(family=family, size=size * FS, color="black")))


def add_key(cx, cy, color, d):
    shapes.append(dict(type="circle", xref="paper", yref="paper", x0=(cx - d / 2) / W, x1=(cx + d / 2) / W,
                       y0=1 - (cy + d / 2) / H, y1=1 - (cy - d / 2) / H, fillcolor=color, line=dict(width=0)))


def add_box(x0, x1, y0, y1, color, line_color="#333333", width=4):
    shapes.append(dict(type="rect", xref="paper", yref="paper", x0=x0 / W, x1=x1 / W, y0=1 - y1 / H, y1=1 - y0 / H,
                       fillcolor=color, line=dict(color=line_color, width=width), layer="below"))


def scatter(n, x, y, color, size, name=""):
    fig.add_trace(go.Scatter(x=x, y=y, mode="markers", name=name, showlegend=False, xaxis=f"x{n}", yaxis=f"y{n}",
                             marker=dict(color=color, size=size, line=dict(width=0))))


def grouped_points(n, groups, key, colors, size):
    for label in sorted(colors):
        pts = [p for g in groups if g[key] == label for p in g[2]]
        if pts:
            scatter(n, [p[0] for p in pts], [p[1] for p in pts], colors[label], size, label)


def backbone(n, x, y, width, smooth=False):
    fig.add_trace(go.Scatter(x=x, y=y, mode="lines", showlegend=False, xaxis=f"x{n}", yaxis=f"y{n}",
                             line=dict(color="black", width=width, shape="spline" if smooth else "linear", smoothing=.8)))


def nodes(n, x, y, labels, size):
    fig.add_trace(go.Scatter(x=x, y=y, mode="markers+text", text=labels, showlegend=False, xaxis=f"x{n}", yaxis=f"y{n}",
                             marker=dict(color="black", size=size), textposition="middle center",
                             textfont=dict(family=SANS, size=int(size * .78), color="white")))


def cyto_panel(groups, left, right, top, bottom, xr, yr, xt, xl, yt, yl, cb_top, cb_bottom):
    n = new_axes(left, right, top, bottom, xr, yr, xt, xl, yt, yl, 48, tick_len=8, x_standoff=-14)
    pts = sorted([p for _, g in groups for p in g], key=lambda p: p[2])
    fig.add_trace(go.Scatter(x=[p[0] for p in pts], y=[p[1] for p in pts], mode="markers", showlegend=False, xaxis=f"x{n}", yaxis=f"y{n}",
                             marker=dict(size=34, color=[p[2] for p in pts], colorscale=CYTO_SCALE, cmin=0, cmax=1, line=dict(width=0),
                                         colorbar=dict(x=65 / W, xanchor="left", y=1 - (cb_top + cb_bottom) / 2 / H, yanchor="middle",
                                                       lenmode="fraction", len=(cb_bottom - cb_top) / H, thicknessmode="pixels", thickness=56,
                                                       xpad=0, ypad=0, outlinewidth=0, ticks="inside", ticklen=9, tickwidth=5, tickcolor="black",
                                                       tickmode="array", tickvals=CB_TICKS, ticktext=CB_LABELS,
                                                       tickfont=dict(family=SANS, size=38 * FS, color="black")))))
    for v in CB_TICKS:
        cy = cb_bottom - v * (cb_bottom - cb_top)
        shapes.append(dict(type="line", xref="paper", yref="paper", x0=65 / W, x1=74 / W, y0=1 - cy / H, y1=1 - cy / H, line=dict(color="black", width=5)))


def pheno_panel(groups, colors, left, right, top, bottom, xr, yr, xt, xl, yt, yl):
    n = new_axes(left, right, top, bottom, xr, yr, xt, xl, yt, yl, 48, tick_len=8, x_standoff=-14)
    for label, g in groups:
        scatter(n, [p[0] for p in g], [p[1] for p in g], colors[label], 34, label)


def violin_panel(exprs, halves, colors, left, right, top, bottom, xr, yr, xlabels, strip_top):
    shapes.append(dict(type="rect", xref="paper", yref="paper", x0=left / W, x1=right / W, y0=1 - bottom / H, y1=1 - top / H, fillcolor="#E5E5E5", line=dict(width=0), layer="below"))
    shapes.append(dict(type="rect", xref="paper", yref="paper", x0=left / W, x1=right / W, y0=1 - top / H, y1=1 - strip_top / H, fillcolor="#D0D0D0", line=dict(width=0), layer="below"))
    cats = list(range(1, len(exprs) + 1))
    n = new_axes(left, right, top, bottom, xr, yr, cats, xlabels, LOG_TICKS, LOG_LABELS, 32, line=0, ylog=True)
    grid = dict(showgrid=True, gridcolor="white", gridwidth=4)
    fig.update_layout(**{f"xaxis{n}": grid, f"yaxis{n}": dict(minor=dict(tickvals=LOG_MINOR, showgrid=True, gridcolor="white", gridwidth=2, ticks=""), **grid)})
    for c, expr, half, color in zip(cats, exprs, halves, colors):
        x = [c + h for h in half] + [c - h for h in half[::-1]]
        y = expr + expr[::-1]
        fig.add_trace(go.Scatter(x=x, y=y, mode="lines", fill="toself", fillcolor=color, showlegend=False, xaxis=f"x{n}", yaxis=f"y{n}",
                                 line=dict(color="#333333", width=4)))


# %%
# Panel A
XT_A, XL_A = [-4, 0, 4, 8], ["\u22124", "0", "4", "8"]
YT_A, YL_A = [-4, 0, 4], ["\u22124", "0", "4"]
cyto_panel(A_GROUPS, 596, 1031, 143, 893, [-4.49, 11.4], [-7.93, 6.3], XT_A, XL_A, YT_A, YL_A, 434, 714)
pheno_panel(A_GROUPS, A_PHENO_COLORS, 1355, 1790, 143, 893, [-5.0, 10.9], [-7.93, 6.3], XT_A, XL_A, YT_A, YL_A)
add_text(46, 47, "<b>A</b>", 84, family=SERIF)
add_text(812, 84, "CytoTRACE", 67)
add_text(1572, 86, "Phenotype", 67)
for cx in (812, 1572):
    add_text(cx, 990, "Component1", 57)
add_text(477, 517, "Component2", 57, angle=-90)
add_text(1237, 517, "Component2", 57, angle=-90)
add_text(65, 342, "Predicted", 45, anchor="left")
add_text(65, 391, "order", 45, anchor="left")
for label, cy in zip(A_PHENO_LABELS, [358, 415, 471, 527, 584, 639, 696]):
    add_key(1876, cy, A_PHENO_COLORS[label], 32)
    add_text(1935, cy, label, 45)

# Panel B
XT_T1, XL_T1 = [-10, -5, 0, 5], ["\u221210", "\u22125", "0", "5"]
YT_T1, YL_T1 = [-4, 0, 4], ["\u22124", "0", "4"]
n = new_axes(2182, 3913, 280, 911, [-10.95, 7.25], [-7.63, 6.45], XT_T1, XL_T1, YT_T1, YL_T1, 30)
backbone(n, T1_LEFT_X, T1_LEFT_Y, 6, True)
backbone(n, T1_RIGHT_X, T1_RIGHT_Y, 5, True)
backbone(n, T1_DOWN_X, T1_DOWN_Y, 4, True)
grouped_points(n, T1_GROUPS, 1, B_COLORS, 16)
nodes(n, T1_NODE_X, T1_NODE_Y, T1_NODE_TEXT, 40)
add_text(2060, 47, "<b>B</b>", 84, family=SERIF)
add_text(3187, 990, "Component 1", 54)
add_text(2098, 595, "Component 2", 38, angle=-90)
add_text(2847, 138, "seurat_clusters", 38)
for label, kx, tx, cy in zip(["0", "2", "5", "7", "1", "3", "6"], [3034, 3184, 3334, 3484, 3034, 3184, 3334], [3108, 3258, 3408, 3558, 3108, 3258, 3408], [101, 101, 101, 101, 214, 214, 214]):
    add_key(kx, cy, B_COLORS[label], 22)
    add_text(tx, cy, label, 38)

# Panel C
n = new_axes(163, 1694, 1174, 2061, [-10.99, 7.96], [-7.63, 6.47], XT_T1, XL_T1, YT_T1, YL_T1, 30)
backbone(n, T1_LEFT_X, T1_LEFT_Y, 6, True)
backbone(n, T1_RIGHT_X, T1_RIGHT_Y, 5, True)
backbone(n, T1_DOWN_X, T1_DOWN_Y, 4, True)
grouped_points(n, T1_GROUPS, 0, C_COLORS, 18)
nodes(n, T1_NODE_X, T1_NODE_Y, T1_NODE_TEXT, 42)
add_text(48, 1127, "<b>C</b>", 84, family=SERIF)
add_text(996, 2145, "Component 1", 59)
add_text(75, 1617, "Component 2", 40, angle=-90)
add_text(741, 1183, "State", 38)
for label, kx, tx in zip(["1", "2", "3"], [838, 989, 1140], [914, 1065, 1216]):
    add_key(kx, 1182, C_COLORS[label], 22)
    add_text(tx, 1182, label, 38)

# Panel D
D_GROUPS = [("1", "0", rows(D_S1_C0_ROWS)), ("1", "2", D_S1_C2), ("1", "3", D_S1_C3), ("1", "3", rows(D_S1_C3_ROWS)), ("1", "5", rows(D_S1_C5_ROWS)),
            ("1", "6", rows(D_S1_C6_ROWS)), ("1", "7", rows(D_S1_C7_ROWS)), ("2", "0", rows(D_S2_C0_ROWS)), ("2", "2", rows(D_S2_C2_ROWS)),
            ("3", "0", rows(D_S3_C0_ROWS)), ("3", "2", rows(D_S3_C2_ROWS)), ("3", "7", rows(D_S3_C7_ROWS))]
D_XT, D_XL = [0, 5, 10, 15, 20], ["0", "5", "10", "15", "20"]
Y_LOG = [-.417, 2.167]
n = new_axes(2243, 2378, 1265, 1977, [-.8, 21], Y_LOG, D_XT, D_XL, LOG_TICKS, LOG_LABELS, 32, ylog=True)
grouped_points(n, D_GROUPS, 1, B_COLORS, 11)
backbone(n, D_SMOOTH_X, D_SMOOTH_Y, 4, True)
violin_panel(V_D_EXPR, V_D_HALF, [C_COLORS[k] for k in "123"], 2906, 3043, 1265, 1977, [.42, 3.58], Y_LOG, ["1", "2", "3"], 1200)
n = new_axes(3398, 3534, 1265, 1977, [-.95, 21], Y_LOG, D_XT, D_XL, LOG_TICKS, LOG_LABELS, 32, ylog=True)
grouped_points(n, D_GROUPS, 0, C_COLORS, 11)
backbone(n, D_SMOOTH_X, D_SMOOTH_Y, 4, True)
add_text(2060, 1127, "<b>D</b>", 84, family=SERIF)
add_text(2309, 1233, "TM4SF1", 33)
add_text(2973, 1233, "TM4SF1", 33)
add_text(3465, 1233, "TM4SF1", 33)
add_text(2318, 2062, "Pseudo\u2212time", 55)
add_text(2985, 2062, "State", 55)
add_text(3490, 2062, "Pseudo\u2212time", 55)
add_text(2133, 1621, "Relative Expression", 43, angle=-90)
add_text(2795, 1621, "Expression", 43, angle=-90)
add_text(3289, 1621, "Relative Expression", 43, angle=-90)
add_text(2442, 1384, "seurat_clusters", 42, anchor="left")
for label, cy in zip(D_CLUSTER_LABELS, [1460, 1537, 1615, 1692, 1770, 1848, 1926]):
    add_key(2479, cy, B_COLORS[label], 15)
    add_text(2553, cy, label, 42)
add_text(3105, 1514, "State", 42, anchor="left")
for label, y0, y1, ty in zip("123", [1557, 1629, 1701], [1624, 1695, 1768], [1592, 1664, 1735]):
    add_box(3109, 3176, y0, y1, C_COLORS[label])
    add_text(3212, ty, label, 38)
add_text(3599, 1514, "State", 42, anchor="left")
for label, cy in zip("123", [1599, 1697, 1795]):
    add_key(3627, cy, C_COLORS[label], 18)
    add_text(3721, cy, label, 50)

# Panel E
XT_E, XL_E = [-10, -5, 0, 5, 10], ["\u221210", "\u22125", "0", "5", "10"]
YT_E, YL_E = [-2, 0, 2, 4, 6], ["\u22122", "0", "2", "4", "6"]
cyto_panel(E_GROUPS, 596, 1031, 2366, 3117, [-10.65, 11], [-3.5, 6.1], XT_E, XL_E, YT_E, YL_E, 2659, 2938)
pheno_panel(E_GROUPS, E_PHENO_COLORS, 1355, 1790, 2366, 3117, [-10.65, 11], [-3.5, 6.1], XT_E, XL_E, YT_E, YL_E)
add_text(48, 2232, "<b>E</b>", 84, family=SERIF)
add_text(812, 2309, "CytoTRACE", 67)
add_text(1572, 2311, "Phenotype", 67)
for cx in (812, 1572):
    add_text(cx, 3215, "Component1", 57)
add_text(477, 2741, "Component2", 57, angle=-90)
add_text(1237, 2741, "Component2", 57, angle=-90)
add_text(65, 2567, "Predicted", 45, anchor="left")
add_text(65, 2617, "order", 45, anchor="left")
for label, cy in zip(E_PHENO_LABELS, [2555, 2612, 2668, 2724, 2780, 2837, 2893, 2950]):
    add_key(1876, cy, E_PHENO_COLORS[label], 32)
    add_text(1935, cy, label, 45)

# Panel F
XT_T2, XL_T2 = [-5, 0, 5], ["\u22125", "0", "5"]
YT_T2, YL_T2 = [-4, -2, 0, 2], ["\u22124", "\u22122", "0", "2"]
n = new_axes(2184, 3854, 2481, 3067, [-8.37, 9.21], [-4.24, 3.96], XT_T2, XL_T2, YT_T2, YL_T2, 30)
backbone(n, T2_BRANCH_1_X, T2_BRANCH_1_Y, 6, True)
backbone(n, T2_BRANCH_2_X, T2_BRANCH_2_Y, 4)
backbone(n, T2_BRANCH_3_X, T2_BRANCH_3_Y, 6, True)
backbone(n, T2_BRANCH_4_X, T2_BRANCH_4_Y, 4)
backbone(n, T2_BRANCH_5_X, T2_BRANCH_5_Y, 6)
grouped_points(n, T2_GROUPS, 1, F_COLORS, 16)
nodes(n, T2_NODE_X, T2_NODE_Y, T2_NODE_TEXT, 38)
add_text(2055, 2232, "<b>F</b>", 84, family=SERIF)
add_text(2996, 3143, "Component 1", 54)
add_text(2107, 2774, "Component 2", 36, angle=-90)
add_text(2803, 2348, "seurat_clusters", 34)
for label, kx, tx, cy in zip(["0", "2", "4", "6", "1", "3", "5", "7"], [2969, 3104, 3239, 3374] * 2, [3035, 3171, 3306, 3443] * 2, [2314] * 4 + [2418] * 4):
    add_key(kx, cy, F_COLORS[label], 20)
    add_text(tx, cy, label, 36)

# Panel G
n = new_axes(169, 1530, 3385, 4271, [-8.36, 9.22], [-4.27, 3.99], XT_T2, XL_T2, YT_T2, YL_T2, 30)
backbone(n, T2_BRANCH_1_X, T2_BRANCH_1_Y, 6, True)
backbone(n, T2_BRANCH_2_X, T2_BRANCH_2_Y, 4)
backbone(n, T2_BRANCH_3_X, T2_BRANCH_3_Y, 6, True)
backbone(n, T2_BRANCH_4_X, T2_BRANCH_4_Y, 4)
backbone(n, T2_BRANCH_5_X, T2_BRANCH_5_Y, 6)
grouped_points(n, T2_GROUPS, 0, G_COLORS, 18)
nodes(n, T2_NODE_X, T2_NODE_Y, T2_NODE_TEXT, 42)
add_text(46, 3328, "<b>G</b>", 84, family=SERIF)
add_text(816, 4356, "Component 1", 54)
add_text(81, 3828, "Component 2", 40, angle=-90)
add_text(546, 3394, "State", 38)
for label, kx, tx in zip("12345", [644, 781, 920, 1059, 1197], [712, 851, 989, 1127, 1266]):
    add_key(kx, 3396, G_COLORS[label], 20)
    add_text(tx, 3396, label, 36)

# Panel H
H_GROUPS = [("1", "1", rows(H_S1_C1_ROWS)), ("1", "2", rows(H_S1_C2_ROWS)), ("1", "7", rows(H_S1_C7_ROWS)),
            ("2", "1", rows(H_S2_C1_ROWS)), ("2", "2", rows(H_S2_C2_ROWS)), ("2", "6", rows(H_S2_C6_ROWS)),
            ("3", "1", rows(H_S3_C1_ROWS)), ("3", "3", rows(H_S3_C3_ROWS)), ("3", "4", rows(H_S3_C4_ROWS)), ("3", "5", rows(H_S3_C5_ROWS)), ("3", "6", rows(H_S3_C6_ROWS)),
            ("4", "4", rows(H_S4_C4_ROWS)), ("4", "5", rows(H_S4_C5_ROWS)),
            ("5", "3", H_S5_C3), ("5", "4", rows(H_S5_C4_ROWS)), ("5", "6", H_S5_C6), ("5", "7", H_S5_C7), ("5", "7", rows(H_S5_C7_ROWS))]
H_XT, H_XL = [0, 5, 10, 15], ["0", "5", "10", "15"]
Y_LOG_H = [-.419, 2.166]
n = new_axes(2215, 2359, 3463, 4210, [-.83, 19.2], Y_LOG_H, H_XT, H_XL, LOG_TICKS, LOG_LABELS, 32, ylog=True)
grouped_points(n, H_GROUPS, 1, F_COLORS, 12)
backbone(n, H_SMOOTH_X, H_SMOOTH_Y, 4, True)
violin_panel(V_H_EXPR, V_H_HALF, [G_COLORS[k] for k in "12345"], 2911, 3055, 3463, 4210, [.43, 5.57], Y_LOG_H, ["1", "2", "3", "4", "5"], 3396)
n = new_axes(3427, 3571, 3463, 4210, [-.97, 19.05], Y_LOG_H, H_XT, H_XL, LOG_TICKS, LOG_LABELS, 32, ylog=True)
grouped_points(n, H_GROUPS, 0, G_COLORS, 12)
backbone(n, H_SMOOTH_X, H_SMOOTH_Y, 4, True)
add_text(2057, 3330, "<b>H</b>", 84, family=SERIF)
add_text(2287, 3431, "TM4SF1", 33)
add_text(2981, 3431, "TM4SF1", 33)
add_text(3499, 3431, "TM4SF1", 33)
add_text(2299, 4295, "Pseudo\u2212time", 55)
add_text(2992, 4300, "State", 57)
add_text(3507, 4295, "Pseudo\u2212time", 55)
add_text(2102, 3837, "Relative Expression", 43, angle=-90)
add_text(2795, 3837, "Expression", 43, angle=-90)
add_text(3314, 3837, "Relative Expression", 43, angle=-90)
add_text(2425, 3554, "seurat_clusters", 42, anchor="left")
for label, cy in zip(H_CLUSTER_LABELS, [3635, 3717, 3799, 3882, 3963, 4046, 4128, 4210]):
    add_key(2465, cy, F_COLORS[label], 16)
    add_text(2543, cy, label, 42)
add_text(3122, 3656, "State", 44, anchor="left")
for label, y0, y1, ty in zip("12345", [3700, 3786, 3871, 3956, 4042], [3781, 3866, 3952, 4037, 4123], [3741, 3828, 3913, 3997, 4084]):
    add_box(3119, 3201, y0, y1, G_COLORS[label], "#222222", 5)
    add_text(3241, ty, label, 44)
add_text(3639, 3656, "State", 44, anchor="left")
for label, cy in zip("12345", [3736, 3815, 3895, 3974, 4054]):
    add_key(3653, cy, G_COLORS[label], 16)
    add_text(3730, cy, label, 42)

# no fixed width/height: the page fills the browser frame; colorbars must not push the margins
fig.update_layout(margin=dict(l=0, r=0, t=0, b=0, autoexpand=False), paper_bgcolor="white", plot_bgcolor="rgba(0,0,0,0)",
                  showlegend=False, annotations=annotations, shapes=shapes)
fig.write_html("out.html")
